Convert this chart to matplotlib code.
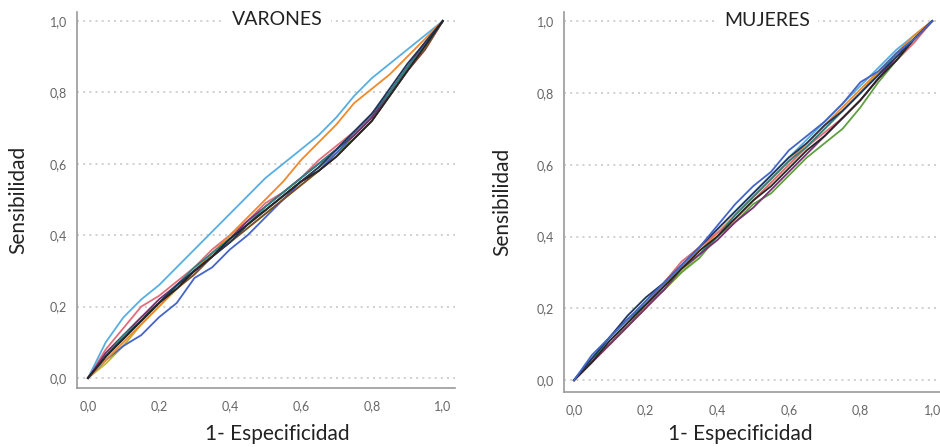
import matplotlib.pyplot as plt

# 1 - especificidad (common grid for all curves)
fpr = [0.00, 0.05, 0.10, 0.15, 0.20, 0.25, 0.30, 0.35, 0.40, 0.45, 0.50,
       0.55, 0.60, 0.65, 0.70, 0.75, 0.80, 0.85, 0.90, 0.95, 1.00]

# VARONES - sensibilidad
v_lightblue = [0, .10, .17, .22, .26, .31, .36, .41, .46, .51, .56, .60, .64, .68, .73, .79, .84, .88, .92, .96, 1]
v_orange = [0, .05, .10, .15, .20, .25, .30, .35, .40, .45, .50, .55, .61, .66, .71, .77, .81, .85, .90, .95, 1]
v_pink = [0, .08, .14, .20, .23, .27, .31, .36, .40, .44, .49, .52, .56, .61, .65, .69, .74, .80, .86, .92, 1]
v_blue = [0, .05, .09, .12, .17, .21, .28, .31, .36, .40, .45, .50, .55, .58, .63, .68, .73, .79, .86, .93, 1]
v_green = [0, .07, .12, .17, .21, .26, .30, .35, .39, .43, .47, .51, .55, .59, .63, .67, .72, .79, .86, .93, 1]
v_olive = [0, .04, .09, .15, .20, .25, .30, .34, .38, .42, .46, .50, .54, .58, .63, .68, .73, .80, .87, .93, 1]
v_black = [0, .06, .11, .16, .21, .25, .30, .34, .39, .43, .47, .51, .55, .58, .62, .67, .72, .79, .86, .93, 1]
v_navy = [0, .06, .11, .16, .21, .26, .30, .34, .38, .43, .47, .51, .55, .59, .64, .69, .74, .81, .88, .94, 1]
v_teal = [0, .06, .12, .16, .21, .26, .31, .35, .39, .43, .48, .52, .56, .60, .64, .69, .74, .80, .87, .93, 1]
v_purple = [0, .07, .12, .17, .22, .26, .30, .34, .39, .44, .48, .52, .56, .60, .64, .68, .73, .80, .87, .94, 1]
v_brown = [0, .06, .11, .16, .21, .25, .29, .34, .38, .42, .46, .50, .54, .58, .62, .67, .72, .79, .86, .92, 1]

# MUJERES - sensibilidad
m_blue = [0, .07, .12, .17, .22, .27, .32, .37, .43, .49, .54, .58, .64, .68, .72, .77, .83, .86, .91, .95, 1]
m_navy = [0, .06, .12, .18, .23, .27, .32, .37, .42, .47, .52, .57, .62, .66, .71, .75, .80, .85, .90, .95, 1]
m_black = [0, .05, .11, .16, .21, .26, .31, .36, .40, .45, .50, .54, .59, .64, .68, .73, .78, .84, .89, .95, 1]
m_green = [0, .06, .10, .15, .21, .25, .30, .34, .40, .44, .49, .52, .57, .62, .66, .70, .76, .83, .89, .95, 1]
m_teal = [0, .06, .12, .17, .21, .26, .31, .35, .40, .46, .51, .56, .61, .65, .70, .75, .80, .85, .91, .95, 1]
m_orange = [0, .05, .10, .15, .20, .26, .31, .36, .41, .46, .51, .56, .61, .66, .71, .76, .81, .86, .91, .96, 1]
m_pink = [0, .05, .10, .16, .21, .27, .33, .37, .41, .45, .50, .55, .60, .65, .69, .73, .78, .84, .89, .94, 1]
m_purple = [0, .05, .10, .15, .20, .25, .31, .35, .39, .44, .48, .53, .58, .63, .68, .73, .78, .84, .90, .95, 1]
m_lightblue = [0, .06, .11, .16, .22, .27, .32, .37, .42, .47, .52, .57, .62, .67, .72, .77, .82, .87, .92, .96, 1]
m_olive = [0, .05, .10, .15, .21, .25, .30, .35, .40, .45, .50, .55, .60, .65, .70, .75, .80, .86, .91, .96, 1]

tick_vals = [0.0, 0.2, 0.4, 0.6, 0.8, 1.0]
tick_labels = ["0,0", "0,2", "0,4", "0,6", "0,8", "1,0"]

C = {
    "lightblue": "#58aee0", "orange": "#ee8a2b", "pink": "#e46c7a",
    "blue": "#4464c8", "green": "#5fa040", "olive": "#c2b530",
    "black": "#262626", "navy": "#20365f", "teal": "#2a8383",
    "purple": "#7a2f72", "brown": "#7b4a2a",
}

varones = [(v_olive, "olive"), (v_green, "green"), (v_blue, "blue"), (v_pink, "pink"),
           (v_lightblue, "lightblue"), (v_orange, "orange"), (v_brown, "brown"),
           (v_purple, "purple"), (v_teal, "teal"), (v_navy, "navy"), (v_black, "black")]
mujeres = [(m_olive, "olive"), (m_lightblue, "lightblue"), (m_orange, "orange"),
           (m_pink, "pink"), (m_green, "green"), (m_teal, "teal"), (m_purple, "purple"),
           (m_black, "black"), (m_navy, "navy"), (m_blue, "blue")]

plt.rcParams["font.family"] = ["Lato", "DejaVu Sans"]
fig = plt.figure(figsize=(9.4, 4.47), dpi=100)
ax1 = fig.add_axes([0.0819, 0.132, 0.402, 0.841])
ax2 = fig.add_axes([0.600, 0.123, 0.400, 0.850])


def style(ax, title, xlim, ylim, ylab_x, xlab_y, xlab_x, title_x):
    ax.set_xlim(*xlim)
    ax.set_ylim(*ylim)
    for s in ["top", "right"]:
        ax.spines[s].set_visible(False)
    for s in ["left", "bottom"]:
        ax.spines[s].set_color("#9a9a9a")
        ax.spines[s].set_linewidth(1.2)
    ax.set_xticks(tick_vals)
    ax.set_xticklabels(tick_labels)
    ax.set_yticks(tick_vals)
    ax.set_yticklabels(tick_labels)
    ax.tick_params(length=0, labelsize=9, labelcolor="#666666")
    ax.tick_params(axis="x", pad=9)
    ax.tick_params(axis="y", pad=7)
    ax.grid(axis="y", linestyle=(0, (1.2, 2.5)), color="#c8c8c8", linewidth=1.2)
    ax.set_axisbelow(True)
    ax.set_ylabel("Sensibilidad", fontsize=15, color="#222222")
    ax.yaxis.set_label_coords(ylab_x, 0.5)
    ax.set_xlabel("1- Especificidad", fontsize=15, color="#222222")
    ax.xaxis.set_label_coords(xlab_x, xlab_y)
    ax.text(title_x, 0.979, title, transform=ax.transAxes, ha="center", va="center",
            fontsize=14, color="#222222",
            bbox=dict(facecolor="white", edgecolor="none", pad=6))


for vals, c in varones:
    ax1.plot(fpr, vals, color=C[c], linewidth=1.3)
for vals, c in mujeres:
    ax2.plot(fpr, vals, color=C[c], linewidth=1.3)

style(ax1, "VARONES", (-0.031, 1.034), (-0.028, 1.025), -0.13, -0.095, 0.53, 0.529)
style(ax2, "MUJERES", (-0.028, 1.022), (-0.033, 1.025), -0.138, -0.085, 0.47, 0.54)

fig.savefig("out.png", dpi=100)
